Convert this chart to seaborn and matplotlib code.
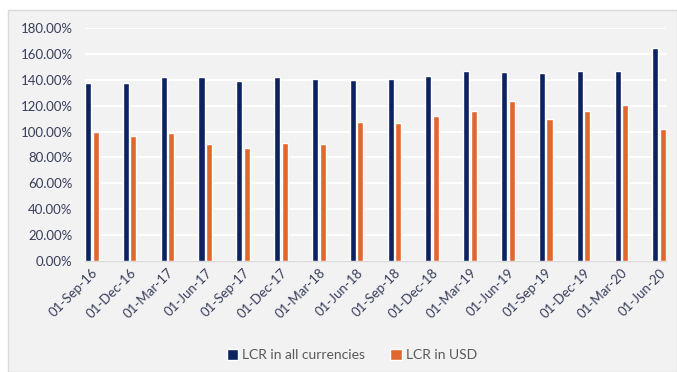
import matplotlib
matplotlib.use("Agg")
import matplotlib.pyplot as plt
from matplotlib.patches import Rectangle
from matplotlib.ticker import FuncFormatter
import seaborn as sns
import pandas as pd

dates = ["01-Sep-16", "01-Dec-16", "01-Mar-17", "01-Jun-17", "01-Sep-17", "01-Dec-17",
         "01-Mar-18", "01-Jun-18", "01-Sep-18", "01-Dec-18", "01-Mar-19", "01-Jun-19",
         "01-Sep-19", "01-Dec-19", "01-Mar-20", "01-Jun-20"]
lcr_all = [137.8, 137.3, 142.4, 142.4, 138.9, 142.4, 140.9, 139.6, 140.9, 142.7,
           147.1, 146.3, 145.3, 146.6, 146.6, 164.4]
lcr_usd = [99.7, 96.4, 98.9, 90.4, 87.1, 91.2, 90.4, 107.7, 106.6, 112.3,
           116.2, 123.9, 109.7, 115.7, 120.6, 102.2]
series_names = ["LCR in all currencies", "LCR in USD"]
y_ticks = [0, 20, 40, 60, 80, 100, 120, 140, 160, 180]

df = pd.DataFrame({
    "date": dates * 2,
    "value": lcr_all + lcr_usd,
    "series": [series_names[0]] * len(dates) + [series_names[1]] * len(dates),
})

sns.set_theme(style="white")
plt.rcParams["font.family"] = ["Lato", "DejaVu Sans"]

W, H = 677, 372
fig = plt.figure(figsize=(W / 100, H / 100), dpi=100)
fig.patch.set_facecolor("white")

# chart-area panel behind the axes
panel = Rectangle((8 / W, 0), 1 - 8 / W, 1 - 10 / H, transform=fig.transFigure,
                  facecolor="#f2f2f2", edgecolor="#d9d9d9", linewidth=1.0, zorder=-10)
fig.patches.append(panel)

ax = fig.add_axes([85 / W, 1 - 261 / H, (666 - 85) / W, (261 - 28) / H])
ax.set_zorder(1)
ax.patch.set_alpha(0)

palette = {series_names[0]: "#0c2261", series_names[1]: "#e0682f"}
sns.barplot(data=df, x="date", y="value", hue="series", order=dates,
            hue_order=series_names, palette=palette, width=0.4, gap=0.2,
            saturation=1, ax=ax, legend=False, zorder=3)

ax.set_ylim(0, 180)
ax.set_xlim(-0.18, 15.18)
ax.set_yticks(y_ticks)
ax.yaxis.set_major_formatter(FuncFormatter(lambda v, p: f"{v:.2f}%"))
ax.grid(axis="y", color="white", linewidth=1.4, zorder=0)
ax.set_axisbelow(True)
for s in ["top", "right", "left"]:
    ax.spines[s].set_visible(False)
ax.spines["bottom"].set_color("#d9d9d9")
ax.spines["bottom"].set_linewidth(1.0)
ax.set_xlabel("")
ax.set_ylabel("")

tick_color = "#383d5c"
ax.tick_params(axis="y", length=0, pad=9, labelsize=9.5, labelcolor=tick_color)
ax.tick_params(axis="x", length=0, pad=4, labelsize=9.5, labelcolor=tick_color)
for lbl in ax.get_xticklabels():
    lbl.set_rotation(45)
    lbl.set_ha("right")
    lbl.set_rotation_mode("anchor")

handles = [Rectangle((0, 0), 1, 1, facecolor=palette[n]) for n in series_names]
fig.legend(handles, series_names, loc="center", bbox_to_anchor=(352 / W, 1 - 355 / H),
           ncol=2, frameon=False, fontsize=10, labelcolor="#595959",
           handlelength=0.8, handleheight=0.8, handletextpad=0.3, columnspacing=1.8)

fig.savefig("out.png", dpi=100)
